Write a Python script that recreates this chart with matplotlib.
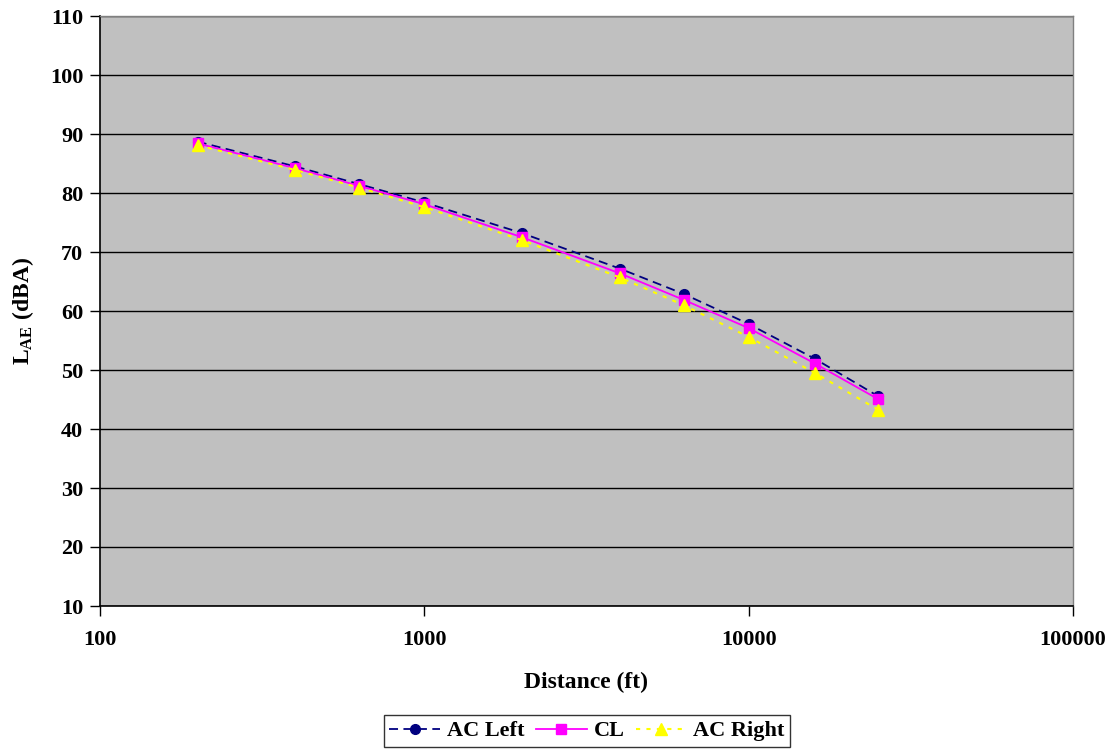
import numpy as np
import matplotlib.pyplot as plt
from matplotlib.ticker import FixedLocator, NullLocator, FixedFormatter

# --- datos ---
distancia = [200, 400, 630, 1000, 2000, 4000, 6300, 10000, 16000, 25000]
ac_left = [88.7, 84.5, 81.5, 78.4, 73.2, 67.2, 62.9, 57.8, 51.9, 45.6]
cl = [88.4, 84.2, 81.2, 78.1, 72.5, 66.4, 61.9, 57.1, 51.1, 45.1]
ac_right = [88.1, 83.9, 80.9, 77.6, 72.0, 65.7, 61.0, 55.6, 49.5, 43.3]

x_ticks = [100, 1000, 10000, 100000]
y_ticks = list(range(10, 111, 10))

plt.rcParams['font.family'] = ['Liberation Serif', 'DejaVu Serif']
plt.rcParams['font.weight'] = 'bold'
plt.rcParams['mathtext.fontset'] = 'custom'
plt.rcParams['mathtext.rm'] = 'Liberation Serif:bold'
plt.rcParams['mathtext.bf'] = 'Liberation Serif:bold'
plt.rcParams['mathtext.it'] = 'Liberation Serif:bold'

fig = plt.figure(figsize=(11.16, 7.5), dpi=100)
ax = fig.add_axes([100 / 1116, 144 / 750, 973 / 1116, 590 / 750])
ax.set_facecolor('#c0c0c0')

ax.plot(distancia, ac_left, color='#000080', linestyle=(0, (5, 3)), linewidth=1.3,
        marker='o', markersize=7, label='AC Left', zorder=3)
ax.plot(distancia, cl, color='#ff00ff', linestyle='-', linewidth=1.3,
        marker='s', markersize=7, label='CL', zorder=4)
ax.plot(distancia, ac_right, color='#ffff00', linestyle=(0, (2, 3)), linewidth=1.5,
        marker='^', markersize=8, label='AC Right', zorder=5)

ax.set_xscale('log')
ax.set_xlim(100, 100000)
ax.set_ylim(10, 110)
ax.xaxis.set_major_locator(FixedLocator(x_ticks))
ax.xaxis.set_major_formatter(FixedFormatter([str(v) for v in x_ticks]))
ax.xaxis.set_minor_locator(NullLocator())
ax.set_yticks(y_ticks)

ax.grid(axis='y', color='black', linewidth=1, zorder=1)
ax.set_axisbelow(True)

for s in ['left', 'bottom']:
    ax.spines[s].set_color('black')
    ax.spines[s].set_linewidth(1.2)
for s in ['right', 'top']:
    ax.spines[s].set_color('#808080')
    ax.spines[s].set_linewidth(1)

ax.tick_params(axis='both', direction='out', length=7, width=1, labelsize=16)
ax.tick_params(axis='x', pad=10)
ax.tick_params(axis='y', pad=5)
for lab in ax.get_xticklabels() + ax.get_yticklabels():
    lab.set_fontweight('bold')

ax.set_xlabel('Distance (ft)', fontsize=17, fontweight='bold', labelpad=16)
ax.set_ylabel(r'L$_{\mathrm{AE}}$ (dBA)', fontsize=17, fontweight='bold', labelpad=10)

leg = fig.legend(loc='center', bbox_to_anchor=(587 / 1116, 1 - 731 / 750), ncol=3,
                 prop={'family': 'Liberation Serif', 'weight': 'bold', 'size': 16},
                 frameon=True, fancybox=False, edgecolor='black', handlelength=2.3,
                 handletextpad=0.3, columnspacing=0.5, borderpad=0.25)
leg.get_frame().set_linewidth(1)

fig.savefig('out.png', dpi=100)
